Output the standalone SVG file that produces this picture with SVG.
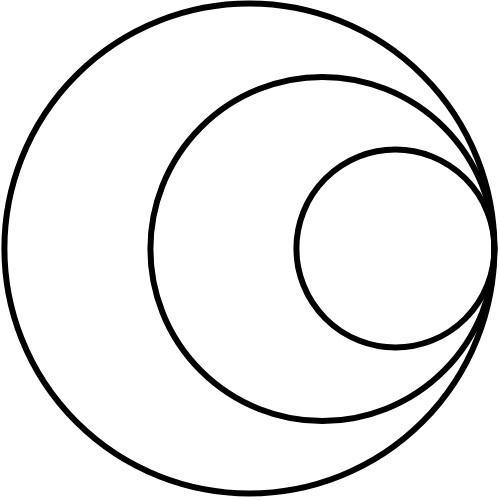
<svg xmlns="http://www.w3.org/2000/svg" width="500" height="500" viewBox="0 0 500 500">
<style>.c{fill:none;stroke:#000;stroke-width:6}</style>
<rect width="500" height="500" fill="#fff"/>
<g id="outer"><circle class="c" cx="249.4" cy="248.5" r="245"/></g>
<g id="middle"><circle class="c" cx="322.4" cy="249" r="172"/></g>
<g id="inner"><circle class="c" cx="395.4" cy="248.5" r="99"/></g>
</svg>
